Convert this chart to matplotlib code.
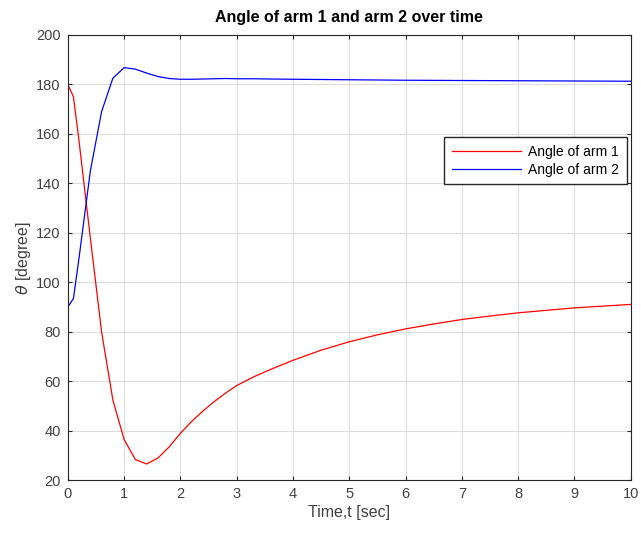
import matplotlib.pyplot as plt

plt.rcParams['font.family'] = ['Liberation Sans', 'DejaVu Sans']

# Data
t = [0, 0.1, 0.2, 0.4, 0.6, 0.8, 1.0, 1.2, 1.4, 1.6, 1.8, 2.0, 2.2, 2.4, 2.6, 2.8,
     3.0, 3.3, 3.6, 4.0, 4.5, 5.0, 5.5, 6.0, 6.5, 7.0, 7.5, 8.0, 9.0, 10.0]
arm1 = [180, 175, 157, 118, 80, 52.5, 36.5, 28.4, 26.6, 29, 33.5, 39, 43.8, 48, 51.8, 55.2,
        58.3, 61.8, 64.8, 68.5, 72.6, 76.0, 78.8, 81.2, 83.2, 85.0, 86.4, 87.7, 89.7, 91.1]
arm2 = [90, 93.5, 110, 145, 169, 182.5, 186.8, 186.2, 184.6, 183.2, 182.4, 182.1, 182.1, 182.2, 182.3, 182.4,
        182.3, 182.3, 182.2, 182.1, 182.0, 181.9, 181.8, 181.7, 181.65, 181.6, 181.55, 181.5, 181.4, 181.3]

fig = plt.figure(figsize=(6.41, 5.38), dpi=100)
ax = fig.add_axes([0.1058, 0.1072, 0.8781, 0.8278])

ax.plot(t, arm1, color='red', lw=0.9, label='Angle of arm 1')
ax.plot(t, arm2, color='blue', lw=0.9, label='Angle of arm 2')

ax.set_xlim(0, 10)
ax.set_ylim(20, 200)
ax.set_xticks(range(0, 11))
ax.set_yticks(range(20, 201, 20))

# MATLAB look
ax.grid(True, color='#dcdcdc', lw=0.8)
ax.set_axisbelow(True)
ax.tick_params(direction='in', top=True, right=True, length=3, labelsize=10.5,
               colors='#262626', labelcolor='#404040', pad=5)
for s in ax.spines.values():
    s.set_color('#262626')
    s.set_linewidth(0.8)

ax.set_title('Angle of arm 1 and arm 2 over time', fontsize=11.5, fontweight='bold', pad=9)
ax.set_xlabel('Time,t [sec]', fontsize=11.5, color='#404040', labelpad=3)
ax.set_ylabel(r'$\theta$ [degree]', fontsize=11.5, color='#404040', labelpad=2)

ax.legend(loc='upper right', bbox_to_anchor=(0.993, 0.771), fontsize=10, frameon=True,
          fancybox=False, edgecolor='#262626', framealpha=1, borderpad=0.55,
          handlelength=5.0, labelspacing=0.3, handletextpad=0.5, borderaxespad=0)

fig.savefig('out.png', dpi=100)
